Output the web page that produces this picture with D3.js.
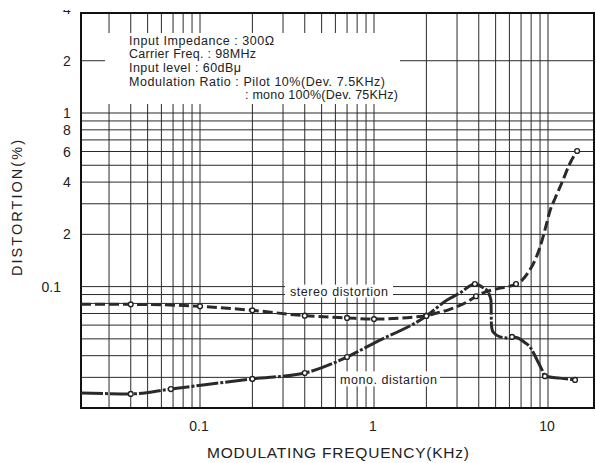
<!DOCTYPE html>
<html><head><meta charset="utf-8">
<script src="https://cdn.jsdelivr.net/npm/d3@7"></script>
<style>body{margin:0;background:#fff}svg{display:block}</style>
</head><body>
<svg id="c" width="596" height="463"></svg>
<script>
// ---- data ----
const stereoFreq = [0.0207,0.04,0.1,0.2,0.4,0.7,1.0,1.77,2.0,2.3,2.73,3.42,3.86,4.34,5.3,6.55,7.1,7.67,8.42,9.0,9.6,10.3,11.0,12.0,13.4,14.7];
const stereoVal  = [0.079,0.079,0.077,0.073,0.068,0.066,0.065,0.067,0.068,0.0705,0.074,0.0815,0.088,0.093,0.098,0.1035,0.109,0.12,0.142,0.169,0.212,0.276,0.324,0.395,0.515,0.604];
const stereoMarks = [1,2,3,4,5,6,8,12,15,25];

const monoFreq = [0.0207,0.04,0.068,0.2,0.4,0.7,1.0,2.0,2.63,3.12,3.8,4.18,4.52,4.7,4.73,4.83,5.3,5.81,6.21,6.72,7.28,7.88,8.65,9.24,9.6,11.7,14.3];
const monoVal  = [0.0244,0.0241,0.0257,0.0294,0.0318,0.0393,0.0473,0.0677,0.0837,0.0919,0.1035,0.0995,0.093,0.0837,0.060,0.0548,0.0513,0.0506,0.0513,0.0506,0.048,0.0449,0.0378,0.0331,0.0305,0.0297,0.029];
const monoMarks = [1,2,3,4,5,7,10,18,24,26];

const xTickValues = [0.1,1,10];
const xTickLabels = ["0.1","1","10"];
const yTickValues = [4,2,1,0.8,0.6,0.4,0.2,0.1];
const yTickLabels = ["4","2","1","8","6","4","2","0.1"];

const noteLines = [
  "Input Impedance : 300\u03A9",
  "Carrier Freq. : 98MHz",
  "Input level : 60dB\u03BC",
  "Modulation Ratio : Pilot 10%(Dev. 7.5KHz)",
  ": mono 100%(Dev. 75KHz)"
];
const stereoLabel = "stereo distortion";
const monoLabel = "mono. distartion";
const xTitle = "MODULATING FREQUENCY(KHz)";
const yTitle = "DISTORTION(%)";

// ---- layout ----
const L = 81, R = 594, T = 13, B = 408;
const x = d3.scaleLog().domain([0.1, 10]).range([200, 548]);
const y = d3.scaleLog().domain([0.1, 1]).range([286.6, 113]);
const font = "'Liberation Sans', Arial, sans-serif";
const ink = "#222";

const svg = d3.select("#c");

// grid values
const xGrid = [];
[0.01,0.1,1].forEach(d => { for (let k=2;k<=9;k++) { const v=d*k; if (x(v)>L+1 && x(v)<R-1) xGrid.push(v); } });
xGrid.push(0.1,1,10);
const yGrid = [];
[0.01,0.1].forEach(d => { for (let k=2;k<=9;k++) { const v=d*k; if (y(v)<B-1) yGrid.push(v); } });
yGrid.push(0.1,1,2);

const g = svg.append("g");
g.selectAll("line.vx").data(xGrid).join("line")
  .attr("x1", d=>x(d)).attr("x2", d=>x(d)).attr("y1", T).attr("y2", B)
  .attr("stroke", "#2b2b2b").attr("stroke-width", 1);
g.selectAll("line.hy").data(yGrid).join("line")
  .attr("x1", L).attr("x2", R).attr("y1", d=>y(d)).attr("y2", d=>y(d))
  .attr("stroke", "#2b2b2b").attr("stroke-width", 1);

// white backgrounds for annotations
svg.append("rect").attr("x",105).attr("y",33).attr("width",295).attr("height",71).attr("fill","#fff");
svg.append("rect").attr("x",285).attr("y",y(0.1)-2).attr("width",108).attr("height",13).attr("fill","#fff");
svg.append("rect").attr("x",336).attr("y",y(0.03)-6).attr("width",104).attr("height",15).attr("fill","#fff");

// frame
svg.append("rect").attr("x",L).attr("y",T).attr("width",R-L).attr("height",B-T)
  .attr("fill","none").attr("stroke","#111").attr("stroke-width",2);

// curves
const line = d3.line().x(d=>x(d[0])).y(d=>y(d[1])).curve(d3.curveMonotoneX);
const stereo = stereoFreq.map((f,i)=>[f,stereoVal[i]]);
const mono = monoFreq.map((f,i)=>[f,monoVal[i]]);
svg.append("path").attr("d", line(mono)).attr("fill","none")
  .attr("stroke","#2a2a2a").attr("stroke-width",3).attr("stroke-dasharray","22,2,3,2");
svg.append("path").attr("d", line(stereo)).attr("fill","none")
  .attr("stroke","#2a2a2a").attr("stroke-width",3).attr("stroke-dasharray","10,4");
svg.selectAll("circle.s").data(stereoMarks.map(i=>stereo[i])).join("circle")
  .attr("cx",d=>x(d[0])).attr("cy",d=>y(d[1])).attr("r",2.4)
  .attr("fill","#fff").attr("stroke",ink).attr("stroke-width",1.4);
svg.selectAll("circle.m").data(monoMarks.map(i=>mono[i])).join("circle")
  .attr("cx",d=>x(d[0])).attr("cy",d=>y(d[1])).attr("r",2.4)
  .attr("fill","#fff").attr("stroke",ink).attr("stroke-width",1.4);

// notes
const notes = svg.append("g").attr("font-family",font).attr("font-size",12.5).attr("fill",ink);
const noteX = [129,129,129,129,245];
const noteW = [145,127,112,256,153];
noteLines.forEach((t,i)=>{
  notes.append("text").attr("x",noteX[i]).attr("y",40+13.7*i).attr("dy","0.36em")
    .attr("textLength",noteW[i]).attr("lengthAdjust","spacing").text(t);
});

// curve labels
svg.append("text").attr("x",290).attr("y",y(0.1)+5).attr("dy","0.36em")
  .attr("font-family",font).attr("font-size",12.5).attr("fill",ink)
  .attr("textLength",98).attr("lengthAdjust","spacing").text(stereoLabel);
svg.append("text").attr("x",340).attr("y",y(0.03)+2).attr("dy","0.36em")
  .attr("font-family",font).attr("font-size",12.5).attr("fill",ink)
  .attr("textLength",97).attr("lengthAdjust","spacing").text(monoLabel);

// y tick labels
svg.append("clipPath").attr("id","yc").append("rect").attr("x",0).attr("y",10).attr("width",80).attr("height",420);
const yl = svg.append("g").attr("clip-path","url(#yc)").attr("font-family",font).attr("font-size",14).attr("fill",ink);
yl.selectAll("text").data(yTickValues).join("text")
  .attr("x",(d,i)=>yTickLabels[i].length>1 ? 61 : 67)
  .attr("text-anchor",(d,i)=>yTickLabels[i].length>1 ? "end" : "middle")
  .attr("y",d=>y(d)).attr("dy","0.36em")
  .text((d,i)=>yTickLabels[i]);

// x tick labels
const xl = svg.append("g").attr("font-family",font).attr("font-size",14).attr("fill",ink);
xl.selectAll("text").data(xTickValues).join("text")
  .attr("x",d=>x(d)-1).attr("y",426).attr("dy","0.36em").attr("text-anchor","middle")
  .text((d,i)=>xTickLabels[i]);

// titles
svg.append("text").attr("x",338).attr("y",452).attr("dy","0.36em").attr("text-anchor","middle")
  .attr("font-family",font).attr("font-size",15.5).attr("fill",ink)
  .attr("textLength",262).attr("lengthAdjust","spacing").text(xTitle);
svg.append("text").attr("transform","translate(17,208) rotate(-90)").attr("dy","0.36em")
  .attr("text-anchor","middle").attr("font-family",font).attr("font-size",14.5).attr("fill",ink)
  .attr("textLength",136).attr("lengthAdjust","spacing").text(yTitle);
</script>
</body></html>
